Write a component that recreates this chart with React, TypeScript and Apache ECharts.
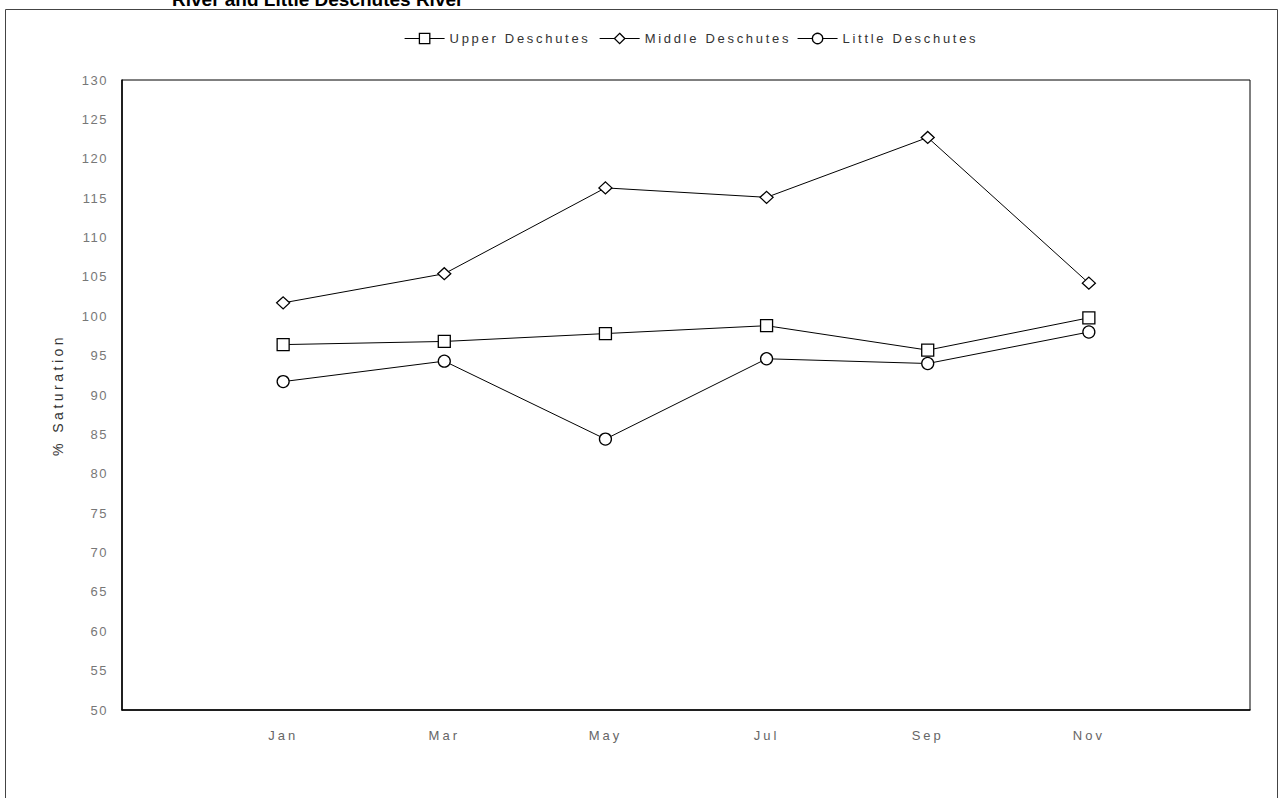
import React, { useEffect, useRef } from "react";
import * as echarts from "echarts";

// Months sampled, placed at positions 1..6 on a 0..7 axis
const months = ["Jan", "Mar", "May", "Jul", "Sep", "Nov"];

// Dissolved oxygen, percent saturation
const upperDeschutes = [96.4, 96.8, 97.8, 98.8, 95.7, 99.8];
const middleDeschutes = [101.7, 105.4, 116.3, 115.1, 122.7, 104.2];
const littleDeschutes = [91.7, 94.3, 84.4, 94.6, 94.0, 98.0];

const seriesNames = ["Upper Deschutes", "Middle Deschutes", "Little Deschutes"];
const axisName = "% Saturation";
const titleLine = "River and Little Deschutes River";

const FONT = "'Liberation Sans', Arial, sans-serif";

export default function App() {
  const ref = useRef<HTMLDivElement>(null);

  useEffect(() => {
    document.body.style.margin = "0";
    const el = ref.current;
    if (!el) return;
    const chart = echarts.init(el, null, { renderer: "svg" });

    const toPoints = (vals: number[]) => vals.map((v, i) => [i + 1, v]);

    const lineSeries = (name: string, vals: number[], symbol: string, size: any) => ({
      name,
      type: "line",
      data: toPoints(vals),
      symbol,
      symbolSize: size,
      showAllSymbol: true,
      lineStyle: { color: "#000", width: 1 },
      itemStyle: { color: "#fff", borderColor: "#000", borderWidth: 1.3 },
      emphasis: { disabled: true },
      z: 3,
    });

    chart.setOption({
      animation: false,
      backgroundColor: "#fff",
      textStyle: { fontFamily: FONT },
      grid: { left: 122, right: 33, top: 80, bottom: 88, show: true, borderColor: "#000", borderWidth: 1 },
      legend: {
        left: 399,
        top: 27,
        itemWidth: 40,
        itemHeight: 13,
        itemGap: 49,
        lineStyle: { width: 1.2, color: "#000" },
        itemStyle: { color: "#fff", borderColor: "#000", borderWidth: 1.3 },
        textStyle: { fontSize: 13, color: "#333", fontFamily: FONT },
        data: seriesNames.map((n) => ({ name: n })),
      },
      xAxis: {
        type: "value",
        min: 0,
        max: 7,
        interval: 1,
        axisLine: { show: true, lineStyle: { color: "#000", width: 1.5 } },
        axisTick: { show: false },
        splitLine: { show: false },
        axisLabel: {
          margin: 19,
          fontSize: 13,
          color: "#666",
          fontFamily: FONT,
          formatter: (v: number) => (v >= 1 && v <= months.length ? months[v - 1] : ""),
        },
      },
      yAxis: {
        type: "value",
        min: 50,
        max: 130,
        interval: 5,
        name: axisName,
        nameLocation: "middle",
        nameGap: 57,
        nameRotate: 90,
        nameTextStyle: { fontSize: 14, color: "#333", fontFamily: FONT },
        axisLine: { show: true, lineStyle: { color: "#000", width: 1.5 } },
        axisTick: { show: false },
        splitLine: { show: false },
        axisLabel: { margin: 14, fontSize: 13, color: "#777", fontFamily: FONT },
      },
      graphic: [
        {
          type: "rect",
          shape: { x: 5.5, y: 9.5, width: 1272, height: 800 },
          style: { fill: "none", stroke: "#444", lineWidth: 1 },
          silent: true,
          z: 0,
        },
        {
          type: "text",
          x: 172,
          y: 9,
          style: {
            text: titleLine,
            fill: "#000",
            font: `bold 19px ${FONT}`,
            textVerticalAlign: "bottom",
          },
          silent: true,
        },
      ],
      series: [
        lineSeries(seriesNames[0], upperDeschutes, "rect", 12),
        lineSeries(seriesNames[1], middleDeschutes, "diamond", [13, 12]),
        lineSeries(seriesNames[2], littleDeschutes, "circle", 12),
      ],
    });

    // Widen the tracking of the chart texts
    const applySpacing = () => {
      el.querySelectorAll("text").forEach((t) => {
        const s = (t.textContent || "").trim();
        if (seriesNames.includes(s)) t.setAttribute("letter-spacing", "2.7");
        else if (months.includes(s)) t.setAttribute("letter-spacing", "3");
        else if (/^\d+$/.test(s)) t.setAttribute("letter-spacing", "1.5");
        else if (s === axisName) t.setAttribute("letter-spacing", "3.5");
      });
    };
    applySpacing();
    chart.on("finished", applySpacing);
    const raf = requestAnimationFrame(applySpacing);

    return () => {
      cancelAnimationFrame(raf);
      chart.dispose();
    };
  }, []);

  return <div ref={ref} style={{ width: 1283, height: 798 }} />;
}
